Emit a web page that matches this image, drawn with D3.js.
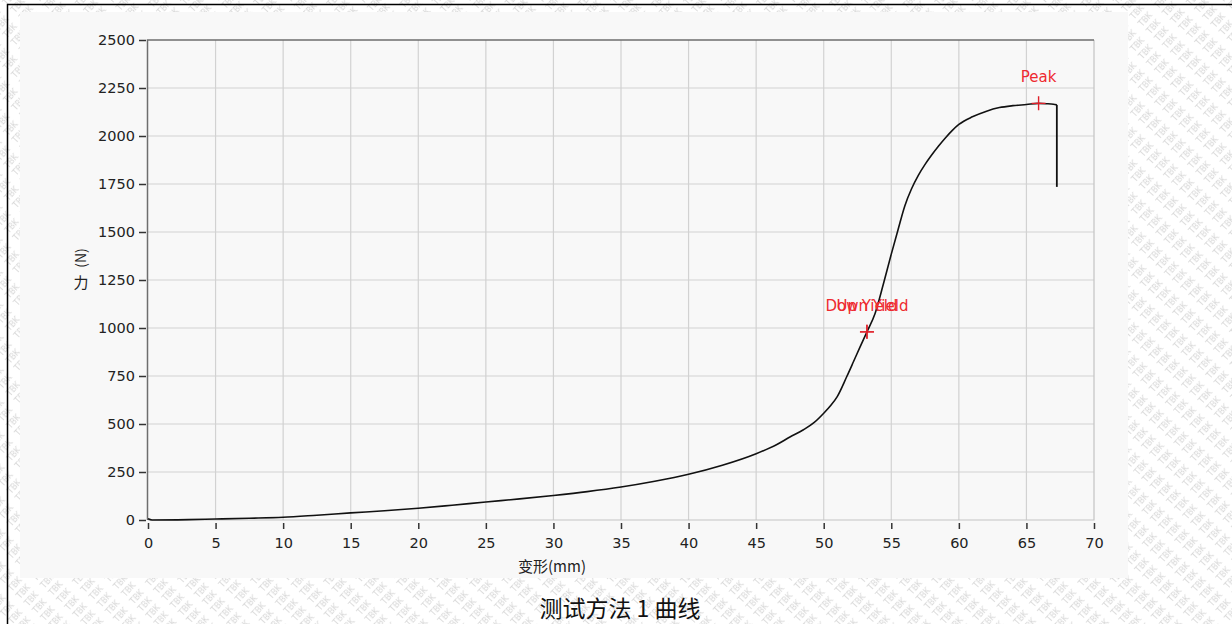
<!DOCTYPE html>
<html>
<head>
    <meta charset="utf-8">
    <title>测试方法 1 曲线</title>
    <script src="https://d3js.org/d3.v7.min.js"></script>
  <style>
        body {
            margin: 0;
            background: #fff;
        }
        svg {
            display: block;
        }
        .tick text {
            font-family: "DejaVu Sans", sans-serif;
            font-size: 14.5px;
            fill: #222;
    }
  </style>
</head>
<body>
    <div id="chart"></div>

  <script>
        // Deformation (mm) / force (N); last point is the break
        const deformation = [0, 0.3, 3, 5, 7.5, 10, 12.5, 15, 17.5, 20, 22.5, 25, 27.5, 30, 32.5, 35,
            37.5, 40, 42.5, 45, 46.5, 47.5, 48.5, 49.3, 50, 50.5, 51, 51.7, 52.2, 52.7, 53.2, 53.8,
            54.4, 55, 55.5, 56, 56.5, 57, 57.5, 58, 58.5, 59, 59.5, 60, 61, 62, 63, 64, 65, 65.9,
            66.5, 67, 67.25, 67.25];
        const force = [6, 0, 2, 5, 9, 14, 25, 37, 48, 61, 77, 94, 110, 128, 148, 172,
            202, 238, 285, 345, 392, 432, 470, 508, 556, 595, 643, 746, 824, 903, 980, 1076,
            1225, 1385, 1512, 1636, 1725, 1795, 1852, 1902, 1948, 1990, 2028, 2060, 2100, 2128, 2148, 2158, 2164, 2170,
            2168, 2165, 2162, 1735];

        // Marked points
        const markerNames = ["Down Yield", "Up Yield", "Peak"];
        const markerX = [53.2, 53.2, 65.9];
        const markerY = [980, 980, 2170];

        const xTicks = d3.range(0, 71, 5);
        const yTicks = d3.range(0, 2501, 250);

        const width = 1232;
        const height = 624;

        const svg = d3.select("#chart")
            .append("svg")
            .attr("width", width)
            .attr("height", height);

        // Watermark background
        const defs = svg.append("defs");
        const pattern = defs.append("pattern")
            .attr("id", "wm")
            .attr("patternUnits", "userSpaceOnUse")
            .attr("width", 24)
            .attr("height", 11)
            .attr("patternTransform", "rotate(-48)");
        pattern.append("text")
            .attr("x", 0)
            .attr("y", 9)
            .attr("font-family", "DejaVu Sans, sans-serif")
            .attr("font-size", 8)
            .attr("fill", "#d6d6d6")
            .text("TBK");

        svg.append("rect")
            .attr("width", width)
            .attr("height", height)
            .attr("fill", "url(#wm)");

        // Light panel behind the chart
        svg.append("rect")
            .attr("x", 20)
            .attr("y", 12)
            .attr("width", 1108)
            .attr("height", 566)
            .attr("fill", "#f8f8f8");

        // Outer table frame (top and left only)
        svg.append("path")
            .attr("d", `M7.5,${height} V4.5 H${width}`)
            .attr("fill", "none")
            .attr("stroke", "#000")
            .attr("stroke-width", 1.5);

        const x = d3.scaleLinear().domain([0, 70]).range([148, 1094]);
        const y = d3.scaleLinear().domain([0, 2500]).range([520, 40]);

        // Grid
        svg.append("g")
            .selectAll("line")
            .data(xTicks.slice(1, -1))
            .enter()
            .append("line")
            .attr("x1", d => x(d))
            .attr("x2", d => x(d))
            .attr("y1", y(2500))
            .attr("y2", y(0))
            .attr("stroke", "#d2d2d2")
            .attr("stroke-width", 1.2);

        svg.append("g")
            .selectAll("line")
            .data(yTicks.slice(1, -1))
            .enter()
            .append("line")
            .attr("x1", x(0))
            .attr("x2", x(70))
            .attr("y1", d => y(d))
            .attr("y2", d => y(d))
            .attr("stroke", "#d2d2d2")
            .attr("stroke-width", 1.2);

        // Plot frame: light right/bottom, dark top/left
        svg.append("path")
            .attr("d", `M${x(70)},${y(2500)} V${y(0)} H${x(0)}`)
            .attr("fill", "none")
            .attr("stroke", "#c4c4c4")
            .attr("stroke-width", 1.2);
        svg.append("path")
            .attr("d", `M${x(0) - 0.5},${y(0)} V${y(2500)} H${x(70)}`)
            .attr("fill", "none")
            .attr("stroke", "#6e6e6e")
            .attr("stroke-width", 1.5);

        // Axes
        const xAxis = svg.append("g")
            .attr("transform", `translate(0,${y(0) + 3})`)
            .call(d3.axisBottom(x).tickValues(xTicks).tickSize(6).tickPadding(9).tickFormat(d3.format("d")));
        const yAxis = svg.append("g")
            .attr("transform", `translate(${x(0) - 2},0)`)
            .call(d3.axisLeft(y).tickValues(yTicks).tickSize(7).tickPadding(4).tickFormat(d3.format("d")));
        [xAxis, yAxis].forEach(g => {
            g.select(".domain").remove();
            g.selectAll(".tick line").attr("stroke", "#333").attr("stroke-width", 1.5);
        });

        // Axis titles
        svg.append("text")
            .attr("x", 552)
            .attr("y", 572)
            .attr("text-anchor", "middle")
            .attr("font-family", "Noto Sans CJK SC, sans-serif")
            .attr("font-size", 15)
            .attr("fill", "#222")
            .text("变形(mm)");

        svg.append("text")
            .attr("x", 81)
            .attr("y", 288)
            .attr("text-anchor", "middle")
            .attr("font-family", "Noto Sans CJK SC, sans-serif")
            .attr("font-size", 15)
            .attr("fill", "#222")
            .text("力");
        svg.append("text")
            .attr("transform", "translate(86,258) rotate(-90)")
            .attr("text-anchor", "middle")
            .attr("font-family", "Noto Sans CJK SC, sans-serif")
            .attr("font-size", 14)
            .attr("fill", "#222")
            .text("(N)");

        // Curve: smooth rise, then straight drop at the break
        const points = deformation.map((d, i) => [d, force[i]]);
        const line = d3.line().x(d => x(d[0])).y(d => y(d[1]));
        svg.append("path")
            .datum(points.slice(0, -1))
            .attr("d", line.curve(d3.curveMonotoneX))
            .attr("fill", "none")
            .attr("stroke", "#111")
            .attr("stroke-width", 1.6);
        svg.append("path")
            .datum(points.slice(-2))
            .attr("d", line.curve(d3.curveLinear))
            .attr("fill", "none")
            .attr("stroke", "#111")
            .attr("stroke-width", 1.8);

        // Markers and their labels (the two yield labels sit on top of each other)
        const markers = markerNames.map((name, i) => ({ name: name, x: markerX[i], y: markerY[i] }));
        const mk = svg.append("g")
            .selectAll("g")
            .data(markers)
            .enter()
            .append("g")
            .attr("transform", d => `translate(${x(d.x)},${y(d.y)})`);

        mk.append("path")
            .attr("d", "M-7,0 H7 M0,-7 V7")
            .attr("stroke", "#e0202a")
            .attr("stroke-width", 1.4);

        mk.append("text")
            .attr("y", -21)
            .attr("text-anchor", "middle")
            .attr("font-family", "DejaVu Sans, sans-serif")
            .attr("font-size", 15)
            .attr("fill", "#ee2a30")
            .text(d => d.name);

        // Caption
        svg.append("text")
            .attr("x", 620)
            .attr("y", 617)
            .attr("text-anchor", "middle")
            .attr("font-family", "Noto Sans CJK SC, sans-serif")
            .attr("font-size", 23)
            .attr("fill", "#111")
            .text("测试方法 1 曲线");
  </script>
</body>
</html>
